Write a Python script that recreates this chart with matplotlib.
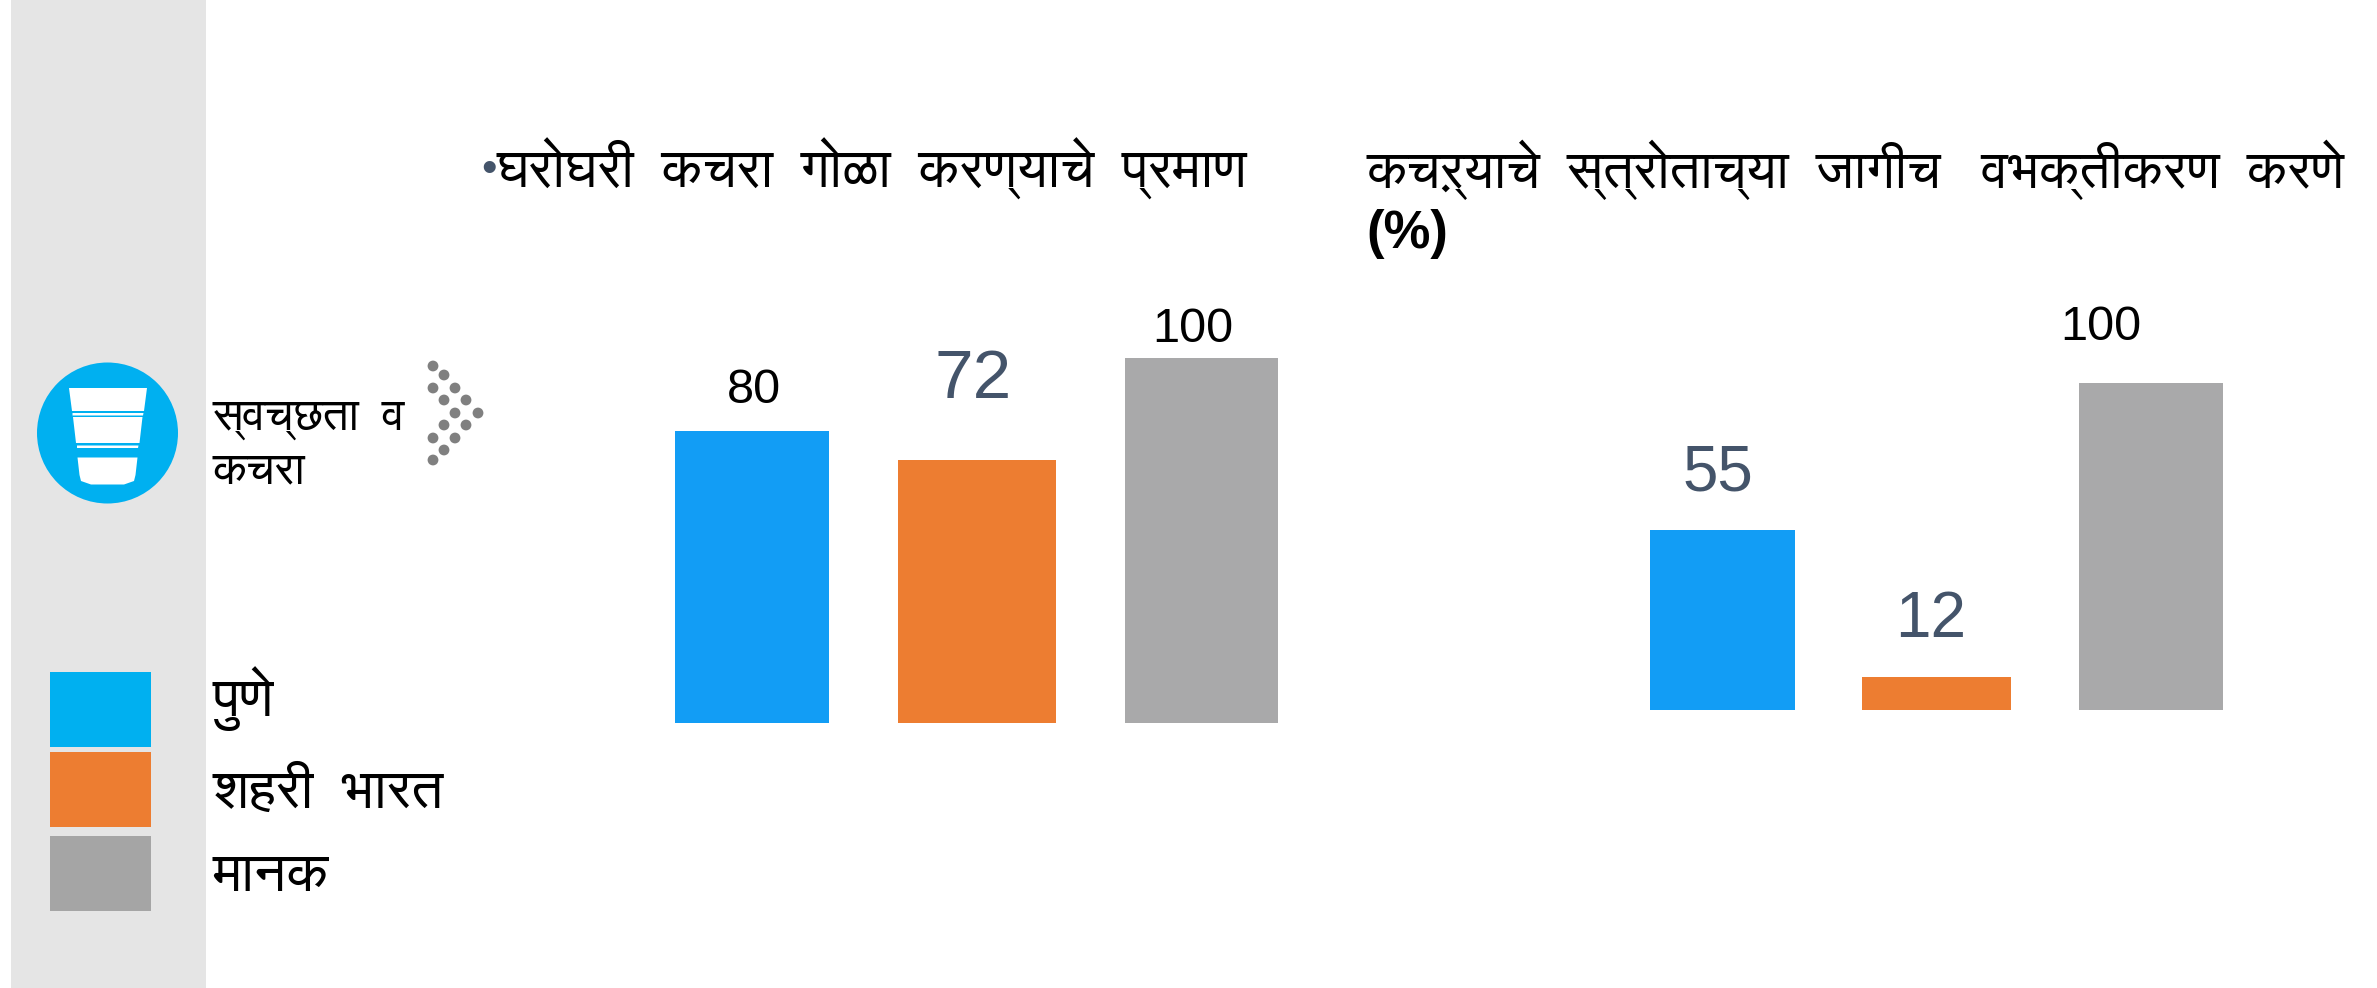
import matplotlib
matplotlib.use("Agg")
import matplotlib.pyplot as plt
from matplotlib.patches import Circle, Polygon, Rectangle

W, H = 2377, 988

DEVANAGARI = ["FreeSans", "Noto Sans", "DejaVu Sans"]
ARIAL = ["Liberation Sans", "DejaVu Sans"]

BLUE = "#129DF5"
ORANGE = "#ED7D31"
GREY = "#A9A9AA"
SLATE = "#44546A"

# the reference sets these with wide word gaps, hence the double spaces
LEFT_TITLE = "घरोघरी  कचरा  गोळा  करण्याचे  प्रमाण"
RIGHT_TITLE = "कचऱ्याचे  स्त्रोताच्या  जागीच   वभक्तीकरण  करणे"
RIGHT_UNIT = "(%)"
SECTOR_LINES = ["स्वच्छता  व", "कचरा"]
LEGEND_LABELS = ["पुणे", "शहरी  भारत", "मानक"]
LEGEND_COLORS = ["#00B0F0", "#ED7D31", "#A5A5A5"]

LEFT_VALUES = [80, 72, 100]
LEFT_LABELS = ["80", "72", "100"]
RIGHT_VALUES = [55, 10, 100]
RIGHT_LABELS = ["55", "12", "100"]
BAR_COLORS = [BLUE, ORANGE, GREY]


def bar_axes(fig, lefts, rights, top, bottom, values):
    ax = fig.add_axes([lefts[0] / W, 1 - bottom / H, (rights[-1] - lefts[0]) / W, (bottom - top) / H])
    ax.set_xlim(lefts[0], rights[-1])
    ax.set_ylim(0, 100)
    ax.axis("off")
    widths = [r - l for l, r in zip(lefts, rights)]
    ax.bar(lefts, values, width=widths, align="edge", color=BAR_COLORS, linewidth=0)
    return ax


def value_label(bg, x, y, text, size):
    color = SLATE if size else "black"
    bg.text(x, y, text, ha="center", va="baseline", fontsize=size or 35, color=color, family=ARIAL)


def draw_icon(bg):
    bg.add_patch(Circle((107.5, 433), 70.5, color="#00B0F0", linewidth=0))
    shapes = [
        [(69, 388), (147, 388), (144, 411), (72, 411)],
        [(72.5, 413), (143.5, 413), (143, 415.5), (72.5, 415.5)],
        [(73, 417), (142.5, 417), (139.5, 443), (76, 443)],
        [(77, 445.5), (138.5, 445.5), (138, 448), (77, 448)],
        [(77.5, 457.5), (137.5, 457.5), (135.5, 475), (134, 481), (124, 484.5),
         (91, 484.5), (81, 481), (79.5, 475)],
    ]
    for pts in shapes:
        bg.add_patch(Polygon(pts, closed=True, color="white", linewidth=0))


def draw_dots(bg):
    xs = [433, 444, 433, 455, 444, 466, 455, 478, 444, 466, 433, 455, 444, 433]
    ys = [366, 375, 388, 388, 400, 400, 413, 413, 425, 425, 438, 438, 450, 460]
    for x, y in zip(xs, ys):
        bg.add_patch(Circle((x, y), 5.4, color="#808080", linewidth=0))


def main() -> None:
    fig = plt.figure(figsize=(W / 100, H / 100), dpi=100, facecolor="white")

    bg = fig.add_axes([0, 0, 1, 1])
    bg.set_xlim(0, W)
    bg.set_ylim(H, 0)
    bg.axis("off")

    bg.add_patch(Rectangle((11, 0), 195, H, color="#E5E5E5", linewidth=0))
    draw_icon(bg)
    draw_dots(bg)

    # legend swatches
    for top, bottom, color in zip([672, 752, 836], [747, 827, 911], LEGEND_COLORS):
        bg.add_patch(Rectangle((50, top), 101, bottom - top, color=color, linewidth=0))
    for y, label in zip([716, 808, 891], LEGEND_LABELS):
        bg.text(213, y, label, fontsize=40.5, family=DEVANAGARI, va="baseline", color="black")

    for y, line in zip([430, 483], SECTOR_LINES):
        bg.text(213, y, line, fontsize=33, family=DEVANAGARI, va="baseline", color="black")

    # headings
    bg.text(481, 182, "•", fontsize=32, family=ARIAL, color=SLATE, va="baseline")
    bg.text(497, 188, LEFT_TITLE, fontsize=39.5, family=DEVANAGARI, va="baseline", color="black")
    bg.text(1366, 188, RIGHT_TITLE, fontsize=39, family=DEVANAGARI, va="baseline", color="black")
    bg.text(1366, 248, RIGHT_UNIT, fontsize=38, family=ARIAL, weight="bold", va="baseline", color="black")

    bar_axes(fig, [675, 898, 1125], [829, 1056, 1278], 358, 723, LEFT_VALUES)
    bar_axes(fig, [1650, 1862, 2079], [1795, 2011, 2223], 383, 710, RIGHT_VALUES)

    for x, y, text, size in zip([754, 973, 1193], [403, 398, 342], LEFT_LABELS, [0, 50, 0]):
        value_label(bg, x, y, text, size)
    for x, y, text, size in zip([1718, 1931, 2101], [490, 637, 340], RIGHT_LABELS, [46, 46, 0]):
        value_label(bg, x, y, text, size)

    fig.savefig("out.png", dpi=100)


if __name__ == "__main__":
    main()
